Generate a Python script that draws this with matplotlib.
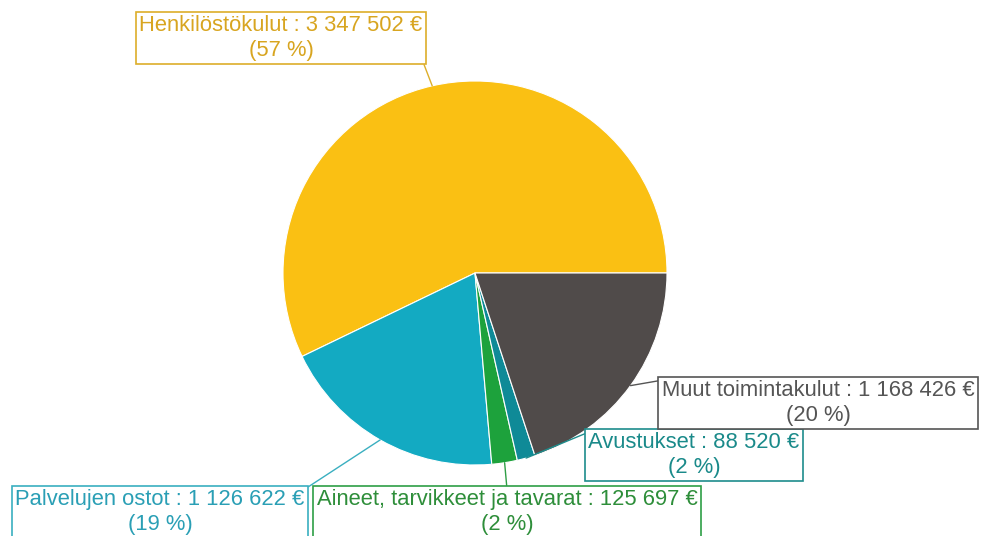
import numpy as np
import matplotlib.pyplot as plt

plt.rcParams['font.family'] = ['Liberation Sans', 'DejaVu Sans']

# Kulut (euroa)
labels = ["Henkilöstökulut", "Palvelujen ostot",
          "Aineet, tarvikkeet ja tavarat", "Avustukset", "Muut toimintakulut"]
values = [3347502, 1126622, 125697, 88520, 1168426]
colors = ["#FAC013", "#13AAC2", "#1DA23C", "#0F8A97", "#504B4A"]
text_colors = ["#D8A520", "#2A9FB5", "#2E8E3A", "#1A8A8A", "#555555"]
edge_colors = ["#DDAE2A", "#3AAFC0", "#2E9E45", "#1E8C8C", "#555555"]

# paikat pikseleinä (y ylhäältä), laatikon keskikohta
box_xy = [(281, 38), (160, 512), (507, 512), (694, 455), (818, 403)]
relpos = [(1, 0), (1, 1), (0.5, 1), (0, 1), (0, 1)]

W, H = 981, 536
cx, cy, r = 475, H - 273, 192

fig = plt.figure(figsize=(W / 100, H / 100), dpi=100)
ax = fig.add_axes([0, 0, 1, 1])

wedges, _ = ax.pie(values, colors=colors, startangle=0, counterclock=True,
                   center=(cx, cy), radius=r, frame=True,
                   wedgeprops=dict(edgecolor='white', linewidth=0.8))
ax.set_xlim(0, W)
ax.set_ylim(0, H)
ax.set_aspect('equal')
ax.axis('off')

total = sum(values)
for i, w in enumerate(wedges):
    ang = np.deg2rad((w.theta1 + w.theta2) / 2)
    px = cx + r * np.cos(ang)
    py = cy + r * np.sin(ang)
    txt = labels[i] + " : " + f"{values[i]:,}".replace(",", " ") + " €\n(" \
        + str(round(values[i] / total * 100)) + " %)"
    bx, by = box_xy[i]
    ax.annotate(txt, xy=(px, py), xytext=(bx, H - by), ha='center', va='center',
                fontsize=15.8, color=text_colors[i], linespacing=1.22,
                bbox=dict(boxstyle='square,pad=0.15', fc='white',
                          ec=edge_colors[i], lw=1.2),
                arrowprops=dict(arrowstyle='-', color=edge_colors[i], lw=1,
                                relpos=relpos[i], shrinkA=0, shrinkB=0))

fig.savefig("out.png", dpi=100)
